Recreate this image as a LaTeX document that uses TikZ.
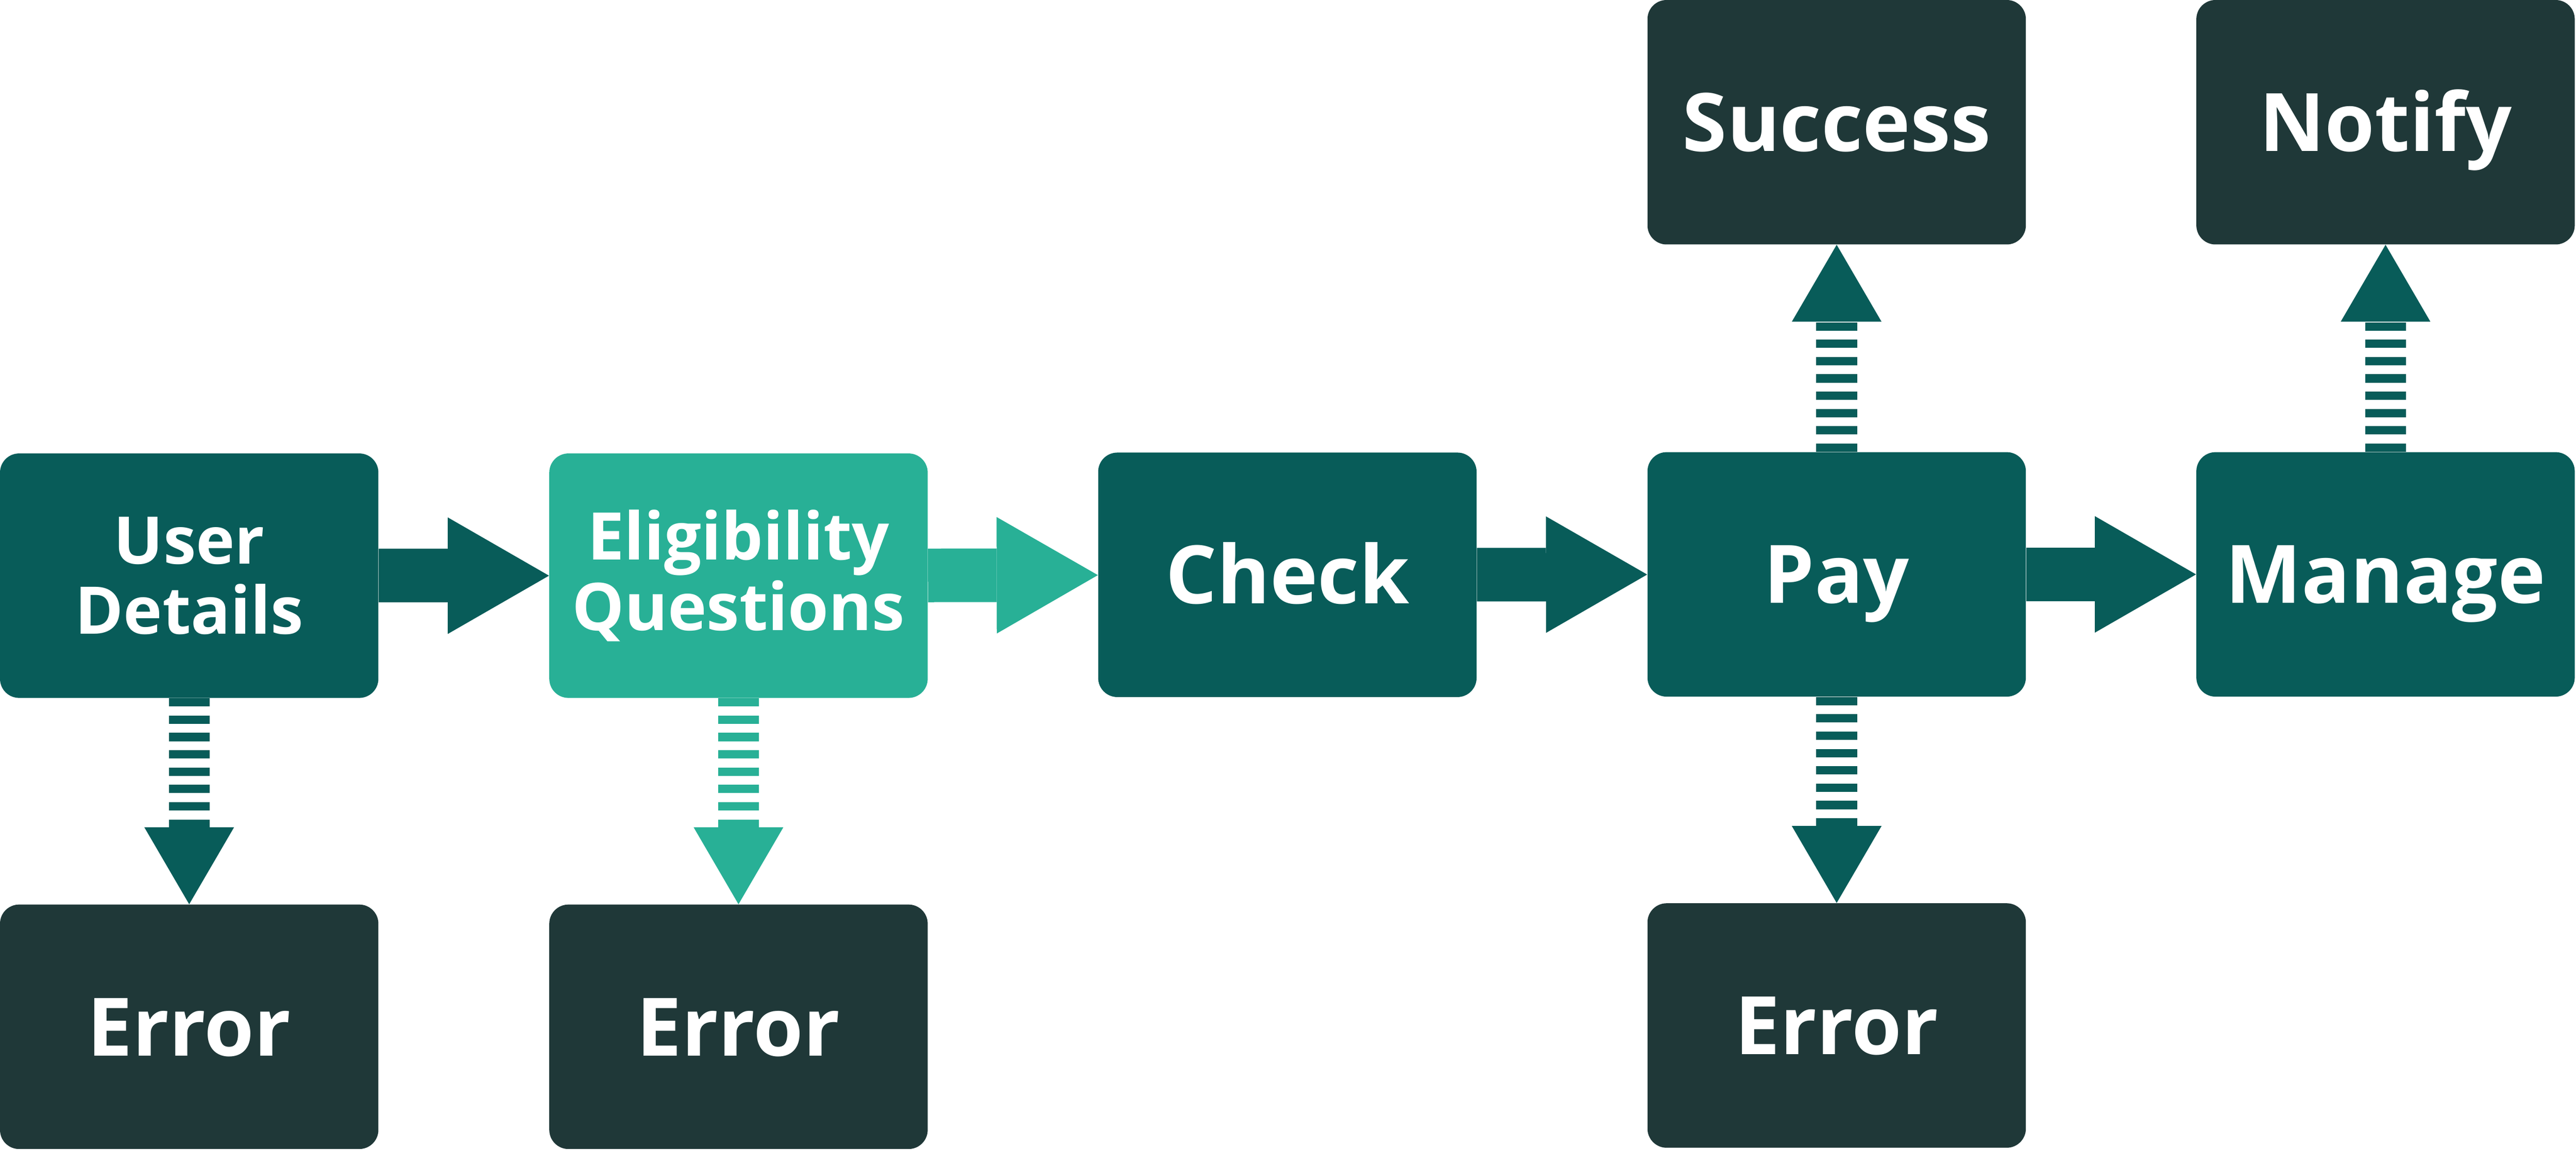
\documentclass[tikz,border=0pt]{standalone}
\usepackage{fontspec}
\setmainfont{Open Sans}
\usepackage{tikz}
\usetikzlibrary{arrows.meta}
\definecolor{mdark}{HTML}{1F3838}
\definecolor{mteal}{HTML}{085C59}
\definecolor{mlight}{HTML}{28B096}
\tikzset{stage/.style = {rectangle, rounded corners = 0.45cm, minimum width = 8.9cm, minimum height = 5.75cm, inner sep = 0, text = white}}
\tikzset{oneline/.style = {font = \bfseries\fontsize{54}{58}\selectfont, text height = 1.36cm, text depth = 0pt}}
\tikzset{twoline/.style = {align = center, font = \bfseries\fontsize{44}{47}\selectfont}}
\tikzset{flow/.style = {line width = 1.26cm, -{Triangle[length = 2.38cm 0 0, width = 2.74cm 0 0, line width = 0pt]}}}
\tikzset{branch/.style = {line width = 0.96cm, dash pattern = on 0.195cm off 0.2125cm, -{Triangle[length = 1.81cm 0 0, width = 2.11cm 0 0, line width = 0pt]}}}

\begin{document}
\begin{tikzpicture}
  \useasboundingbox (0, 0) rectangle (60.59, -27.06);

  \node [stage, twoline, fill = mteal] (usr) at (4.45, -13.54) {User\\Details};
  \node [stage, twoline, fill = mlight] (elig) at (17.37, -13.54) {Eligibility\\Questions};
  \node [stage, oneline, fill = mteal] (chk) at (30.28, -13.52) {Check};
  \node [stage, oneline, fill = mteal] (pay) at (43.20, -13.51) {Pay};
  \node [stage, oneline, fill = mteal] (mng) at (56.11, -13.51) {Manage};

  \node [stage, oneline, fill = mdark] (suc) at (43.20, -2.875) {Success};
  \node [stage, oneline, fill = mdark] (ntf) at (56.11, -2.875) {Notify};
  \node [stage, oneline, fill = mdark] (err1) at (4.45, -24.15) {Error};
  \node [stage, oneline, fill = mdark] (err2) at (17.37, -24.15) {Error};
  \node [stage, oneline, fill = mdark] (err3) at (43.20, -24.12) {Error};

  \foreach \a/\b/\c in {usr/elig/mteal, elig/chk/mlight, chk/pay/mteal, pay/mng/mteal} {
    \draw [flow, \c] (\a) -- (\b);
  }
  \foreach \a/\b/\c in {usr/err1/mteal, elig/err2/mlight, pay/err3/mteal, pay/suc/mteal, mng/ntf/mteal} {
    \draw [branch, \c] (\a) -- (\b);
  }
\end{tikzpicture}
\end{document}
